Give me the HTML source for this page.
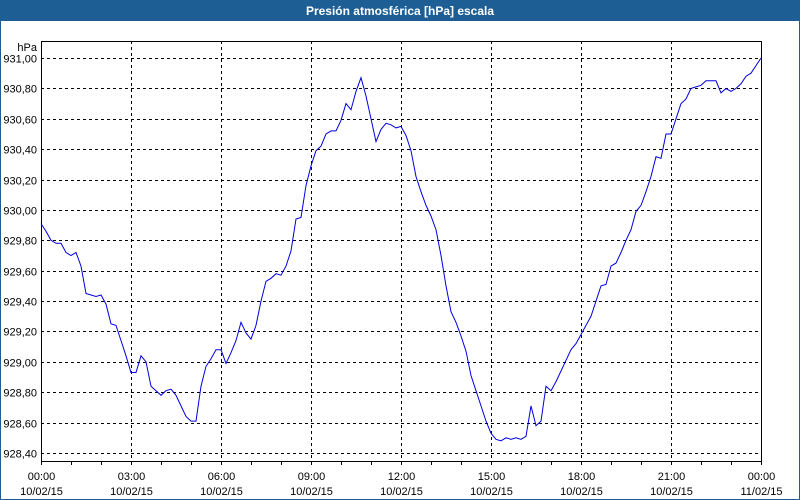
<!DOCTYPE html>
<html><head><meta charset="utf-8">
<style>
html,body{margin:0;padding:0;background:#fff;}
#wrap{position:relative;width:800px;height:500px;box-sizing:border-box;border:1px solid #1d5f95;overflow:hidden;font-family:"Liberation Sans",sans-serif;}
#title{position:absolute;left:0;top:0;width:798px;height:20px;background:#1d5f95;color:#fff;font-weight:bold;font-size:12px;line-height:20px;text-align:center;}
svg{position:absolute;left:0;top:0;}
</style></head><body>
<div id="wrap">
<div id="title">Presión atmosférica [hPa] escala</div>
<svg id="chart" width="800" height="500"></svg>
</div>
<script>
const yTicks=[931.0,930.8,930.6,930.4,930.2,930.0,929.8,929.6,929.4,929.2,929.0,928.8,928.6,928.4];
const xTickHours=[0,3,6,9,12,15,18,21,24];
const xTimeLabels=["00:00","03:00","06:00","09:00","12:00","15:00","18:00","21:00","00:00"];
const xDateLabels=["10/02/15","10/02/15","10/02/15","10/02/15","10/02/15","10/02/15","10/02/15","10/02/15","11/02/15"];
const sampleMinutes=10;
const pressure=[929.91,929.86,929.80,929.78,929.78,929.72,929.70,929.72,929.63,929.45,929.44,929.43,929.44,929.38,929.25,929.24,929.14,929.04,928.93,928.93,929.04,929.00,928.84,928.81,928.78,928.81,928.82,928.78,928.71,928.64,928.61,928.61,928.84,928.97,929.02,929.08,929.08,928.99,929.06,929.14,929.26,929.19,929.15,929.24,929.40,929.53,929.55,929.58,929.57,929.63,929.73,929.94,929.95,930.16,930.29,930.39,930.42,930.50,930.52,930.52,930.59,930.70,930.66,930.78,930.87,930.75,930.60,930.45,930.53,930.57,930.56,930.54,930.55,930.49,930.39,930.22,930.12,930.03,929.96,929.87,929.70,929.50,929.33,929.26,929.17,929.07,928.91,928.81,928.71,928.61,928.53,928.49,928.48,928.50,928.49,928.50,928.49,928.51,928.71,928.58,928.61,928.84,928.81,928.87,928.94,929.01,929.08,929.12,929.18,929.24,929.30,929.40,929.50,929.51,929.63,929.65,929.72,929.80,929.87,929.99,930.03,930.12,930.22,930.35,930.34,930.50,930.50,930.60,930.70,930.73,930.80,930.81,930.82,930.85,930.85,930.85,930.77,930.80,930.78,930.80,930.83,930.88,930.90,930.95,931.00];

const svg=document.getElementById('chart');
const NS='http://www.w3.org/2000/svg';
const L=40,R=760,T=40,B=460;
const yTop=931.0,yBot=928.4,yTopPx=57,yBotPx=452;
function xs(h){return L+(h/24)*(R-L);}
function ys(v){return yTopPx+(yTop-v)/(yTop-yBot)*(yBotPx-yTopPx);}
function mk(tag,attrs){const e=document.createElementNS(NS,tag);for(const k in attrs)e.setAttribute(k,attrs[k]);svg.appendChild(e);return e;}

yTicks.forEach(v=>{
  const y=Math.round(ys(v))+0.5;
  const g=mk('line',{x1:L,x2:R,y1:y,y2:y,stroke:'#000','stroke-dasharray':'3,3','stroke-width':1});
  
  
  const t=mk('text',{x:36,y:y+4,'text-anchor':'end','font-size':11,'font-family':'Liberation Sans, sans-serif',fill:'#000'});
  t.textContent=v.toFixed(2).replace('.',',');
  
  
});
xTickHours.forEach((h,i)=>{
  const x=Math.round(xs(h))+0.5;
  if(i>0&&i<xTickHours.length-1){
    const g=mk('line',{x1:x,x2:x,y1:T,y2:B,stroke:'#000','stroke-dasharray':'3,3','stroke-width':1});
    
    
  }
  const t1=mk('text',{x:x,y:479,'text-anchor':'middle','font-size':11,'font-family':'Liberation Sans, sans-serif',fill:'#000'});
  t1.textContent=xTimeLabels[i];
  
  
  const t2=mk('text',{x:x,y:494,'text-anchor':'middle','font-size':11,'font-family':'Liberation Sans, sans-serif',fill:'#000'});
  t2.textContent=xDateLabels[i];
  
  
});
for(let h=0;h<=24;h++){
  const x=Math.round(xs(h))+0.5;
  const m=mk('line',{x1:x,x2:x,y1:B,y2:B+4,stroke:'#000','stroke-width':1});
  
  
}
const frame=mk('rect',{x:L+0.5,y:T+0.5,width:R-L,height:B-T,fill:'none',stroke:'#000','stroke-width':1});


const unit=mk('text',{x:36,y:50,'text-anchor':'end','font-size':11,'font-family':'Liberation Sans, sans-serif',fill:'#000'});
unit.textContent='hPa';



const pts=pressure.map((v,i)=>xs(i*sampleMinutes/60).toFixed(1)+','+ys(v).toFixed(1)).join(' ');
const line=mk('polyline',{points:pts,fill:'none',stroke:'#0000e0','stroke-width':1});


</script>
</body></html>
